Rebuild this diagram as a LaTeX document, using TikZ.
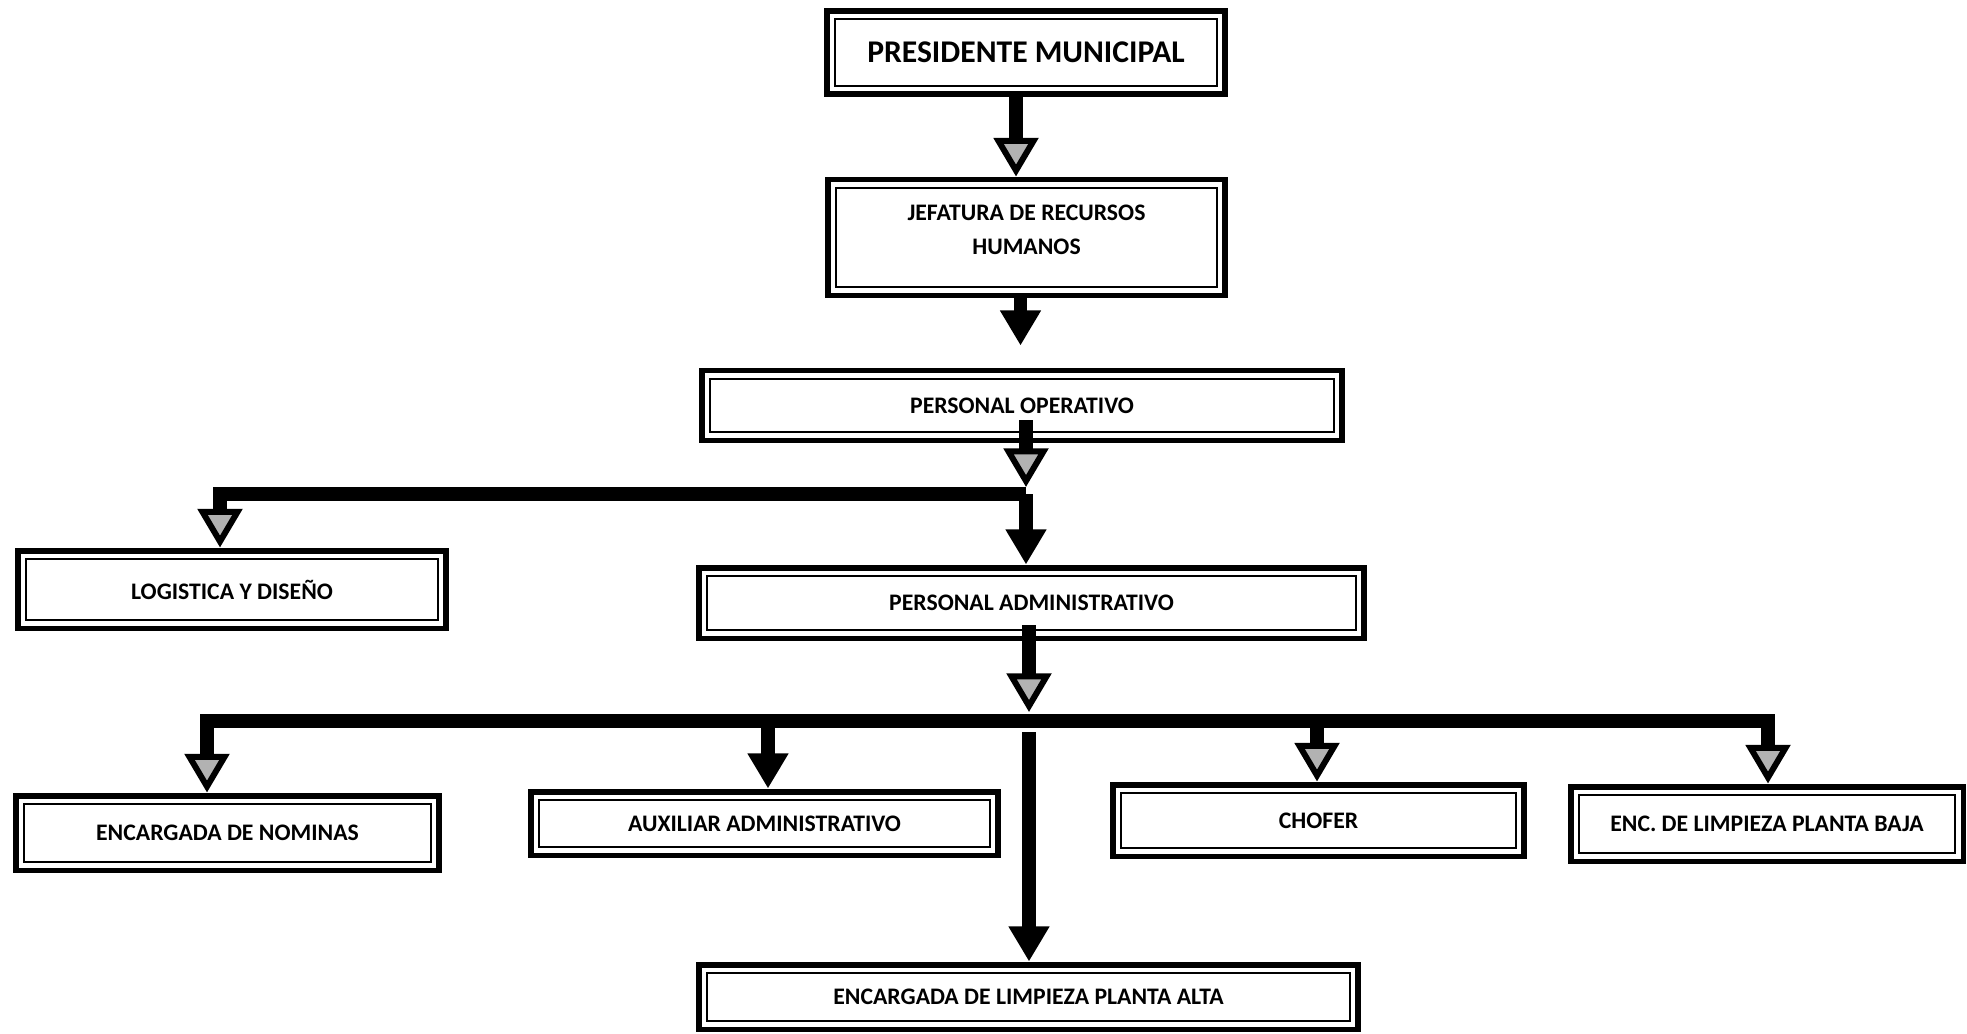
\documentclass[tikz,border=0pt]{standalone}
\usepackage{fontspec}
\setmainfont{Carlito}
\usetikzlibrary{arrows.meta}
\usetikzlibrary{calc}

\begin{document}
\begin{tikzpicture}[
        x=0.02cm, y=-0.02cm,
        box/.style={
            rectangle,
            draw,
            line width=3.4pt,
            inner sep=0pt,
            align=center,
            font=\bfseries\fontsize{13.5}{19}\selectfont,
            path picture={
                \draw[line width=1.1pt]
                    ([shift={(4.6pt,-4.6pt)}]path picture bounding box.north west)
                    rectangle
                    ([shift={(-4.6pt,4.6pt)}]path picture bounding box.south east);
            }
        },
        arrow/.style={-{Triangle[length=20pt,width=22pt]}, line width=7.8pt, line join=miter},
        garrow/.style={-{Triangle[length=22pt,width=25pt,fill=gray!60,line width=3.4pt]}, line width=7.8pt, line join=miter}
    ]

    \useasboundingbox (0,0) rectangle (1967,1034);

    \node[box, minimum width=7.96cm, minimum height=1.66cm,
        font=\bfseries\fontsize{18}{22}\selectfont] (pres) at (1026,52.5) {PRESIDENTE MUNICIPAL};
    \node[box, minimum width=7.96cm, minimum height=2.32cm] (jef) at (1026.5,237.5) {JEFATURA DE RECURSOS\\HUMANOS\\[-10pt]\mbox{}};
    \node[box, minimum width=12.82cm, minimum height=1.40cm] (po) at (1022,405.5) {PERSONAL OPERATIVO};
    \node[box, minimum width=8.58cm, minimum height=1.56cm] (log) at (232,589.5) {LOGISTICA Y DISEÑO};
    \node[box, minimum width=13.32cm, minimum height=1.42cm] (pa) at (1031.5,603) {PERSONAL ADMINISTRATIVO};
    \node[box, minimum width=8.48cm, minimum height=1.50cm] (nom) at (227.5,833) {ENCARGADA DE NOMINAS};
    \node[box, minimum width=9.36cm, minimum height=1.28cm] (aux) at (764.5,823.5) {AUXILIAR ADMINISTRATIVO};
    \node[box, minimum width=8.24cm, minimum height=1.44cm] (cho) at (1318.5,820.5) {CHOFER};
    \node[box, minimum width=7.86cm, minimum height=1.50cm] (baja) at (1767,824) {ENC. DE LIMPIEZA PLANTA BAJA};
    \node[box, minimum width=13.20cm, minimum height=1.30cm] (alta) at (1028.5,997) {ENCARGADA DE LIMPIEZA PLANTA ALTA};

    % junctions
    \coordinate (j1) at (1026,494);
    \coordinate (c1) at (220,494);
    \coordinate (j2) at (1029,721);
    \coordinate (b1) at (207,721);
    \coordinate (b2) at (768,721);
    \coordinate (b4) at (1317,721);
    \coordinate (b5) at (1768,721);

    \draw[garrow] ($(pres.south)+(-10,0)$) -- ($(pres.south |- jef.north)+(-10,0)$);
    \draw[arrow, shorten >=12.5pt] ($(jef.south)+(-6,0)$) -- ($(jef.south |- po.north)+(-6,0)$);

    \draw[garrow] ($(j1 |- po.south)+(0,-23)$) -- ($(j1)+(0,-7)$);
    \draw[garrow] (j1) -- (c1) -- (c1 |- log.north);
    \draw[arrow] (j1) -- (j1 |- pa.north);

    \draw[garrow] ($(j2 |- pa.south)+(0,-16)$) -- ($(j2)+(0,-9)$);
    \draw[garrow] (j2) -- (b1) -- (b1 |- nom.north);
    \draw[garrow] (j2) -- (b5) -- (b5 |- baja.north);
    \draw[arrow] (b2) -- (b2 |- aux.north);
    \draw[garrow] (b4) -- (b4 |- cho.north);
    \draw[arrow] ($(j2)+(0,11)$) -- (j2 |- alta.north);

\end{tikzpicture}
\end{document}
